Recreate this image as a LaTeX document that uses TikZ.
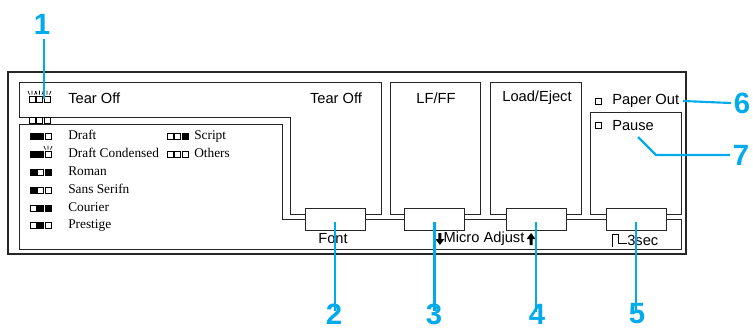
\documentclass[tikz,border=0pt]{standalone}
\usepackage{fontspec}
\setmainfont{Liberation Serif}
\setsansfont{Liberation Sans}
\definecolor{callout}{RGB}{0,170,235}
\newcommand\lampsq[3]{\draw[lamp,fill=#3] (#1-3,#2-3) rectangle (#1+3,#2+3);}
\newcommand\lamprays[2]{\draw[lamp] (#1-2.5,#2-4.5) -- (#1-4,#2-8) (#1,#2-4.5) -- (#1,#2-8.5) (#1+2.5,#2-4.5) -- (#1+4,#2-8);}
\begin{document}
\begin{tikzpicture}[x=0.75pt,y=-0.75pt,
  panel/.style={line width=0.7pt, black!85},
  frame/.style={line width=1.4pt, black!85},
  lamp/.style={line width=0.5pt},
  btn/.style={draw, black!85, line width=0.7pt, minimum width=45pt, minimum height=16.5pt, inner sep=0pt},
  lbl/.style={font=\sffamily\fontsize{11}{13}\selectfont, inner sep=0pt},
  leg/.style={font=\rmfamily\fontsize{10}{12}\selectfont, anchor=west, inner sep=0pt, text height=6.8pt, text depth=2pt},
  call/.style={callout, line width=1.6pt},
  num/.style={font=\sffamily\bfseries\fontsize{22}{26}\selectfont, text=callout, inner sep=0pt}]
\useasboundingbox (0,0) rectangle (753,329);

% outer frame
\draw[frame] (8,72) rectangle (686,254);

% buttons
\node[btn] (b2) at (335,219) {};
\node[btn] (b3) at (434.5,219) {};
\node[btn] (b4) at (536,219) {};
\node[btn] (b5) at (636,219) {};

% upper boxes
\draw[panel] (b2.west |- 0,214) -- (290,214) -- (290,117) -- (19,117) -- (19,82) -- (381,82) -- (381,214) -- (b2.east |- 0,214);
\draw[panel] (b3.west |- 0,214) -- (390,214) -- (390,82) -- (480,82) -- (480,214) -- (b3.east |- 0,214);
\draw[panel] (b4.west |- 0,214) -- (490,214) -- (490,82) -- (581,82) -- (581,214) -- (b4.east |- 0,214);
\draw[panel] (b5.west |- 0,214) -- (590,214) -- (590,112) -- (681,112) -- (681,214) -- (b5.east |- 0,214);

% lower panel
\draw[panel] (b2.west) -- (282,219) -- (282,124) -- (19,124) -- (19,249) -- (681,249) -- (681,219) -- (b5.east);
\draw[panel] (b2.east) -- (b3.west) (b3.east) -- (b4.west) (b4.east) -- (b5.west);

% labels
\node[lbl, anchor=west] (tearoffl) at (68,98) {Tear Off};
\node[lbl] (tearoff) at (336,98) {Tear Off};
\node[lbl] (lfff) at (436,98) {LF/FF};
\node[lbl] (load) at (537,98) {Load/Eject};
\node[lbl, anchor=west] (paper) at (612,101) {Paper Out};
\node[lbl, anchor=west] (pause) at (612,126) {Pause};
\node[lbl] (font) at (333,239) {Font};
\node[lbl] (micro) at (484,239) {Micro Adjust};
\node[lbl, anchor=west] (sec) at (627,240) {3sec};

% micro adjust arrows
\fill (micro.west) ++(-5,-6) -- ++(3,0) -- ++(0,6) -- ++(3,0) -- ++(-4.5,6) -- ++(-4.5,-6) -- ++(3,0) -- cycle;
\fill (micro.east) ++(8,6) -- ++(-3,0) -- ++(0,-6) -- ++(-3,0) -- ++(4.5,-6) -- ++(4.5,6) -- ++(-3,0) -- cycle;

% 3sec symbol
\draw[lamp] (612,247) -- (612,234) -- (618,234) -- (618,243) -- (627,243);

% indicator lamps
\lampsq{598}{101}{white}
\lampsq{598}{125}{white}
\foreach \x in {32,39.5,47} {\lampsq{\x}{99}{white} \lamprays{\x}{99}}
\foreach \x in {32,39.5,47} {\lampsq{\x}{120}{white}}

% legend
\foreach \y/\a/\b/\c in {136/black/black/white, 154/black/black/white, 172/black/white/black, 190/black/white/white, 208/white/black/black, 225/white/black/white}
  {\lampsq{33}{\y}{\a} \lampsq{40.5}{\y}{\b} \lampsq{48}{\y}{\c}}
\lamprays{48}{154}
\foreach \y/\a/\b/\c in {136/white/white/black, 154/white/white/white}
  {\lampsq{170}{\y}{\a} \lampsq{177.5}{\y}{\b} \lampsq{185}{\y}{\c}}
\node[leg] (draft) at (68,136) {Draft};
\node[leg] (draftc) at (68,154) {Draft Condensed};
\node[leg] (roman) at (68,172) {Roman};
\node[leg] (sans) at (68,190) {Sans Serifn};
\node[leg] (courier) at (68,208) {Courier};
\node[leg] (prestige) at (68,225) {Prestige};
\node[leg] (script) at (194,136) {Script};
\node[leg] (others) at (194,154) {Others};

% callouts
\node[num] (n1) at (42,24) {1};
\node[num] (n2) at (334,314) {2};
\node[num] (n3) at (434,314) {3};
\node[num] (n4) at (537,314) {4};
\node[num] (n5) at (637,314) {5};
\node[num] (n6) at (742,103) {6};
\node[num] (n7) at (741,155) {7};
\coordinate (t1) at (44,99);
\coordinate (t6) at (683,101);
\coordinate (t7) at (638,137);
\coordinate (k7) at (656,155);
\draw[call] (n1.south -| t1) ++(0,5) -- (t1);
\draw[call] ([yshift=-2]b2.center) -- ([yshift=-6]b2.center |- n2.north);
\draw[call] ([yshift=-2]b3.center) -- ([yshift=-6]b3.center |- n3.north);
\draw[call] ([yshift=-2]b4.center) -- ([yshift=-6]b4.center |- n4.north);
\draw[call] ([yshift=-2]b5.center) -- ([yshift=-6]b5.center |- n5.north);
\draw[call] (t6) -- ([xshift=-2]n6.west);
\draw[call] (t7) -- (k7) -- ([xshift=-2]n7.west);
\end{tikzpicture}
\end{document}
